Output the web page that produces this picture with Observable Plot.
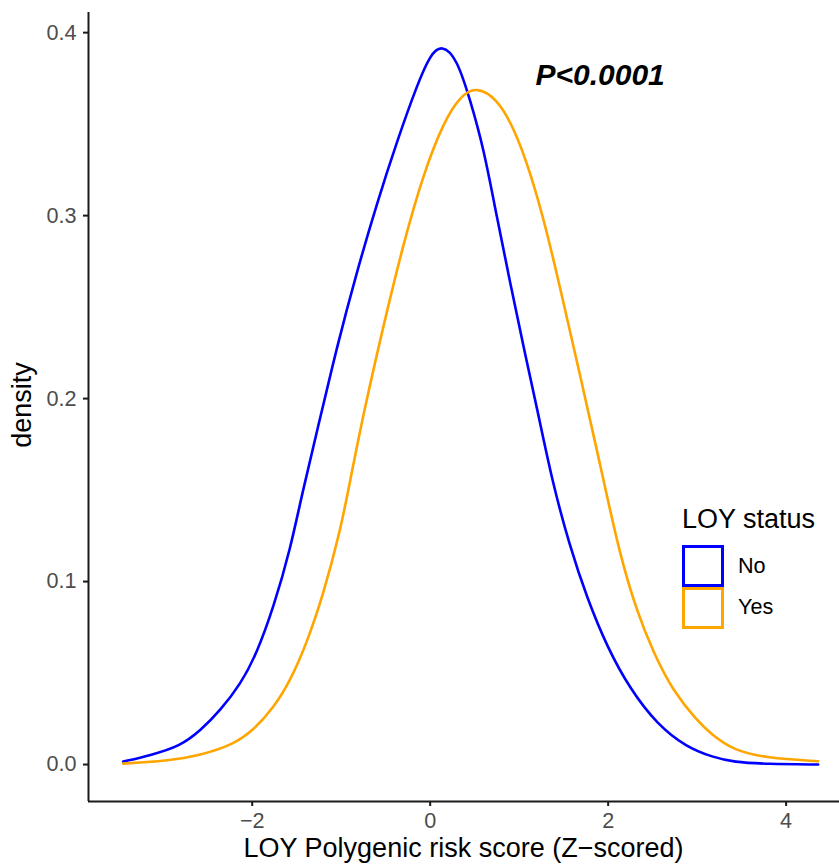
<!DOCTYPE html>
<html>
<head>
<meta charset="utf-8">
<script src="https://cdn.jsdelivr.net/npm/d3@7"></script>
<script src="https://cdn.jsdelivr.net/npm/@observablehq/plot@0.6"></script>
<style>
  html, body { margin: 0; padding: 0; background: #fff; }
  #wrap { position: relative; width: 839px; height: 866px; font-family: "Liberation Sans", Arial, sans-serif; }
  .lg { position: absolute; line-height: 1; white-space: nowrap; color: #000; }
  .key { position: absolute; box-sizing: border-box; width: 42px; height: 42px; border: 3px solid; background: #fff; }
</style>
</head>
<body>
<div id="wrap"></div>
<script>
// ---- data ----
const groups = ["No", "Yes"];
const groupColors = ["#0000FF", "#FFA500"];

const noX = [-3.45, -3.15, -2.81, -2.58, -2.36, -2.13, -1.95, -1.76, -1.57, -1.44, -1.27, -1.05, -0.82, -0.60, -0.37, -0.15, 0.0, 0.13, 0.30, 0.45, 0.60, 0.75, 0.90, 1.05, 1.20, 1.37, 1.57, 1.76, 1.99, 2.25, 2.55, 2.88, 3.18, 3.41, 3.78, 4.36];
const noY = [0.0016, 0.005, 0.010, 0.0186, 0.0295, 0.044, 0.0606, 0.086, 0.118, 0.148, 0.1825, 0.228, 0.270, 0.3065, 0.341, 0.371, 0.388, 0.3935, 0.386, 0.363, 0.337, 0.299, 0.263, 0.228, 0.195, 0.155, 0.119, 0.0914, 0.064, 0.041, 0.022, 0.0095, 0.004, 0.0013, 0.0003, 0.0];

const yesX = [-3.45, -2.96, -2.58, -2.21, -1.99, -1.76, -1.57, -1.39, -1.20, -1.01, -0.92, -0.75, -0.52, -0.30, -0.075, 0.15, 0.34, 0.52, 0.75, 0.94, 1.12, 1.31, 1.50, 1.69, 1.84, 1.95, 2.13, 2.32, 2.51, 2.73, 3.0, 3.15, 3.41, 3.78, 4.36];
const yesY = [0.0005, 0.002, 0.005, 0.011, 0.0186, 0.031, 0.046, 0.066, 0.093, 0.128, 0.150, 0.192, 0.241, 0.285, 0.323, 0.351, 0.3655, 0.3705, 0.364, 0.348, 0.3246, 0.292, 0.252, 0.2116, 0.179, 0.155, 0.115, 0.084, 0.061, 0.040, 0.024, 0.017, 0.0077, 0.0036, 0.0018];

const xTicks = [-2, 0, 2, 4];
const yTicks = [0, 0.1, 0.2, 0.3, 0.4];
const xDomain = [-3.84, 4.6];
const yDomain = [-0.0202, 0.411];

const pLabel = "P<0.0001";
const pAt = [1.91, 0.3765];

const xTitle = "LOY Polygenic risk score (Z\u2212scored)";
const yTitle = "density";
const legendTitle = "LOY status";

// ---- build table ----
const rows = [
  ...noX.map((x, i) => ({x, y: noY[i], group: groups[0]})),
  ...yesX.map((x, i) => ({x, y: yesY[i], group: groups[1]}))
];

const W = 839, H = 866;
const mL = 88, mR = 0, mT = 12, mB = 65;
const axisColor = "#1a1a1a";
const tickText = "#4d4d4d";

const chart = Plot.plot({
  width: W, height: H,
  marginLeft: mL, marginRight: mR, marginTop: mT, marginBottom: mB,
  style: {fontFamily: "'Liberation Sans', Arial, sans-serif", background: "#fff"},
  x: {domain: xDomain},
  y: {domain: yDomain},
  color: {domain: groups, range: groupColors},
  marks: [
    Plot.line(rows, {x: "x", y: "y", stroke: "group", z: "group", strokeWidth: 2.6, curve: "basis"}),
    Plot.text([{x: pAt[0], y: pAt[1], t: pLabel}], {x: "x", y: "y", text: "t", fontSize: 30, fontWeight: "bold", fontStyle: "italic", fill: "#000", textAnchor: "middle"}),
    Plot.ruleX([xDomain[0]], {stroke: axisColor, strokeWidth: 2}),
    Plot.ruleY([yDomain[0]], {stroke: axisColor, strokeWidth: 2}),
    Plot.axisX({ticks: xTicks, tickSize: 5, tickPadding: 6, fontSize: 21.6, label: null, stroke: axisColor, strokeWidth: 2}),
    Plot.axisY({ticks: yTicks, tickSize: 5, tickPadding: 7, fontSize: 21.6, label: null, tickFormat: d3.format(".1f"), stroke: axisColor, strokeWidth: 2})
  ]
});

const svg = d3.select(chart);
svg.selectAll('[aria-label="x-axis tick label"] text, [aria-label="y-axis tick label"] text').attr("fill", tickText);
svg.selectAll('[aria-label="x-axis tick label"], [aria-label="y-axis tick label"]').attr("fill", tickText);

// axis titles
svg.append("text")
  .attr("x", mL + (W - mL - mR) / 2).attr("y", 857)
  .attr("text-anchor", "middle").attr("font-size", 27).attr("fill", "#000")
  .attr("font-family", "'Liberation Sans', Arial, sans-serif")
  .text(xTitle);
svg.append("text")
  .attr("transform", "translate(31,405) rotate(-90)")
  .attr("text-anchor", "middle").attr("font-size", 27).attr("fill", "#000")
  .attr("font-family", "'Liberation Sans', Arial, sans-serif")
  .text(yTitle);

const wrap = document.getElementById("wrap");
wrap.appendChild(chart);

// legend (HTML overlay)
function addText(txt, left, top, size) {
  const s = document.createElement("div");
  s.className = "lg";
  s.style.left = left + "px"; s.style.top = top + "px"; s.style.fontSize = size + "px";
  s.textContent = txt;
  wrap.appendChild(s);
}
addText(legendTitle, 682, 506, 27);
groups.forEach((g, i) => {
  const k = document.createElement("div");
  k.className = "key";
  k.style.left = "682px"; k.style.top = (545 + i * 42) + "px";
  k.style.borderColor = groupColors[i];
  wrap.appendChild(k);
  addText(g, 738, 555 + i * 41, 21.6);
});
</script>
</body>
</html>
